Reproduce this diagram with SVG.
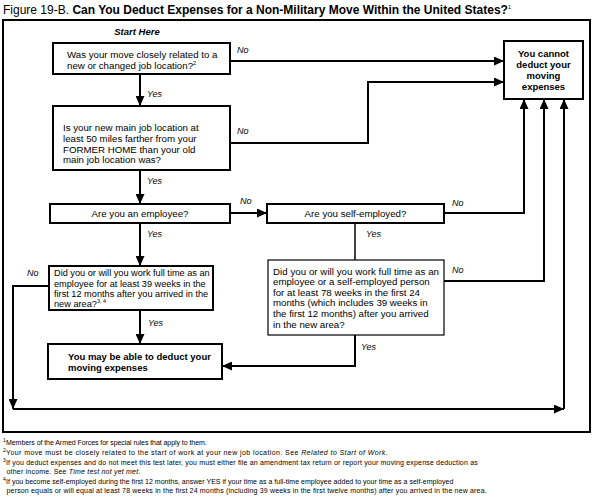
<svg xmlns="http://www.w3.org/2000/svg" width="595" height="503" viewBox="0 0 595 503">
<defs>
<style>
text{font-family:"Liberation Sans",Arial,sans-serif;fill:#000}
.t{font-size:9.7px}
.t2{font-size:9.2px}
.b{font-size:9.5px;font-weight:bold}
.lbl{font-size:9px;font-style:italic}
.fn{font-size:7px}
.sup{font-size:5.5px}
.fs{font-size:5px}
.box{fill:#fff;stroke:#000;stroke-width:2}
.thin{stroke-width:1.2}
.conn path{fill:none;stroke:#000;stroke-width:2}
.conn path.a{marker-end:url(#ah)}
</style>
<marker id="ah" markerUnits="userSpaceOnUse" markerWidth="10" markerHeight="9" refX="10" refY="4.5" orient="auto"><path d="M0,0 L10,4.5 L0,9 z" fill="#000"/></marker>
</defs>
<rect width="595" height="503" fill="#fff"/>
<text x="3" y="14" style="font-size:12px">Figure 19-B. <tspan font-weight="bold">Can You Deduct Expenses for a Non-Military Move Within the United States?</tspan><tspan class="sup" dy="-5">1</tspan></text>
<rect x="3" y="20" width="587" height="412" fill="none" stroke="#000" stroke-width="2"/>
<text x="137" y="34.5" class="b" text-anchor="middle" font-style="italic">Start Here</text>

<g class="conn">
<path class="a" d="M230,61 H504"/>
<path class="a" d="M230,143 H368 V82 H504"/>
<path class="a" d="M140,74 V106"/>
<path class="a" d="M140,170 V204"/>
<path class="a" d="M230,213 H267"/>
<path class="a" d="M140,223 V266"/>
<path class="a" d="M444,213 H524 V99"/>
<path d="M355,223 V260" style="stroke-width:1.5"/>
<path class="a" d="M444,281 H544 V99"/>
<path class="a" d="M355,335 V366 H222"/>
<path class="a" d="M140,310 V344"/>
<path class="a" d="M49,286 H13 V409"/>
<path class="a" d="M13,409 H564"/>
<path class="a" d="M564,409 V99"/>
</g>

<g id="labels">
<text class="lbl" x="237" y="52.5">No</text>
<text class="lbl" x="237" y="133.5">No</text>
<text class="lbl" x="147" y="96.5">Yes</text>
<text class="lbl" x="147" y="183.5">Yes</text>
<text class="lbl" x="240" y="204">No</text>
<text class="lbl" x="147" y="236.5">Yes</text>
<text class="lbl" x="452" y="205.5">No</text>
<text class="lbl" x="366" y="237">Yes</text>
<text class="lbl" x="452" y="272.5">No</text>
<text class="lbl" x="27" y="276">No</text>
<text class="lbl" x="148" y="326">Yes</text>
<text class="lbl" x="361" y="350">Yes</text>
</g>

<g id="q1">
<rect class="box" x="53" y="43" width="177" height="31"/>
<text class="t" x="67" y="57.5">Was your move closely related to a</text>
<text class="t" x="67" y="68.5">new or changed job location?<tspan class="sup" dy="-4">2</tspan></text>
</g>

<g id="q2">
<rect class="box" x="53" y="106" width="177" height="64"/>
<text class="t" x="63" y="130.5">Is your new main job location at</text>
<text class="t" x="63" y="141.5">least 50 miles farther from your</text>
<text class="t" x="63" y="152.5">FORMER HOME than your old</text>
<text class="t" x="63" y="163">main job location was?</text>
</g>

<g id="q3">
<rect class="box" x="50" y="204" width="180" height="19"/>
<text class="t" x="140" y="217" text-anchor="middle">Are you an employee?</text>
</g>

<g id="q4">
<rect class="box" x="267" y="204" width="177" height="19"/>
<text class="t" x="355.5" y="217" text-anchor="middle">Are you self-employed?</text>
</g>

<g id="q5">
<rect class="box" x="49" y="266" width="164" height="44"/>
<text class="t2" x="54" y="276">Did you or will you work full time as an</text>
<text class="t2" x="54" y="286.5">employee for at least 39 weeks in the</text>
<text class="t2" x="54" y="297">first 12 months after you arrived in the</text>
<text class="t2" x="54" y="307">new area?<tspan class="sup" dy="-4">3, 4</tspan></text>
</g>

<g id="q6">
<rect class="box thin" x="268" y="260" width="176" height="75"/>
<text class="t" x="273" y="274.5" textLength="166">Did you or will you work full time as an</text>
<text class="t" x="273" y="285">employee or a self-employed person</text>
<text class="t" x="273" y="295.5">for at least 78 weeks in the first 24</text>
<text class="t" x="273" y="306">months (which includes 39 weeks in</text>
<text class="t" x="273" y="316.5">the first 12 months) after you arrived</text>
<text class="t" x="273" y="327.5">in the new area?</text>
</g>

<g id="yes-result">
<rect class="box" x="48" y="344" width="174" height="35"/>
<text class="b" x="68" y="360">You may be able to deduct your</text>
<text class="b" x="68" y="371">moving expenses</text>
</g>

<g id="no-result">
<rect class="box" x="504" y="41" width="79" height="58"/>
<text class="b" x="543.5" y="57" text-anchor="middle">You cannot</text>
<text class="b" x="543.5" y="68" text-anchor="middle">deduct your</text>
<text class="b" x="543.5" y="79" text-anchor="middle">moving</text>
<text class="b" x="543.5" y="90" text-anchor="middle">expenses</text>
</g>

<g id="footnotes">
<text class="fs" x="3" y="442">1</text>
<text class="fn" x="6" y="444.5" textLength="200.7">Members of the Armed Forces for special rules that apply to them.</text>
<text class="fs" x="3" y="452">2</text>
<text class="fn" x="6" y="454.5" textLength="381.7">Your move must be closely related to the start of work at your new job location. See <tspan font-style="italic">Related to Start of Work</tspan>.</text>
<text class="fs" x="3" y="462">3</text>
<text class="fn" x="6" y="464.5" textLength="471.7">If you deduct expenses and do not meet this test later, you must either file an amendment tax return or report your moving expense deduction as</text>
<text class="fn" x="6.5" y="473.5" letter-spacing="0.2">other income. See <tspan font-style="italic">Time test not yet met</tspan>.</text>
<text class="fs" x="3" y="481">4</text>
<text class="fn" x="6" y="483.5" textLength="447.3">If you become self-employed during the first 12 months, answer YES if your time as a full-time employee added to your time as a self-employed</text>
<text class="fn" x="6.5" y="492.5" textLength="480.2">person equals or will equal at least 78 weeks in the first 24 months (including 39 weeks in the first twelve months) after you arrived in the new area.</text>
</g>
</svg>
